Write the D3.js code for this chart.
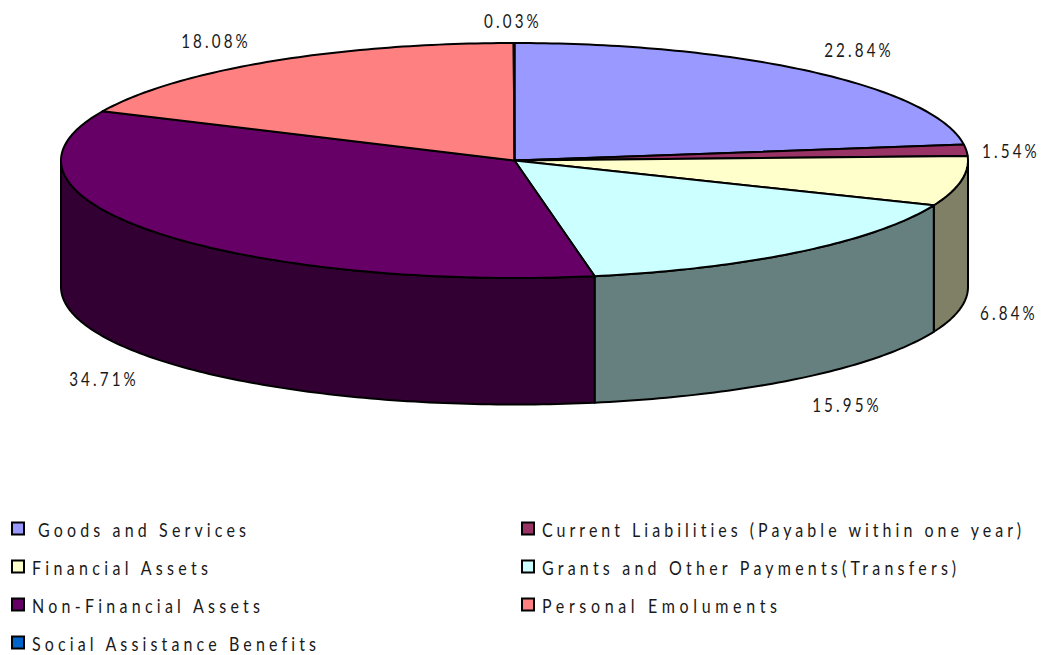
<!DOCTYPE html>
<html>
<head>
<meta charset="utf-8">
<script src="https://cdn.jsdelivr.net/npm/d3@7"></script>
<style>
  body { margin: 0; background: #fff; }
  text { font-family: Lato, "Open Sans", sans-serif; fill: #1a1a1a; font-variant-ligatures: none; }
</style>
</head>
<body>
<div id="chart"></div>
<script>
// Chart data
const categories = [
    "Goods and Services",
    "Current Liabilities (Payable within one year)",
    "Financial Assets",
    "Grants and Other Payments(Transfers)",
    "Non-Financial Assets",
    "Personal Emoluments",
    "Social Assistance Benefits"
];
const values = [22.84, 1.54, 6.84, 15.95, 34.71, 18.08, 0.03];
const topColors = ["#9999ff", "#993366", "#ffffcc", "#ccffff", "#660066", "#ff8080", "#0066cc"];
const sideColors = ["#4d4d80", "#4d1a33", "#808066", "#668080", "#330033", "#804040", "#003366"];

const width = 1041;
const height = 655;
const cx = 514.5, cy = 160.5, rx = 453.5, ry = 117.5, depth = 126.5;
const squeeze = 0.8; // the original font is narrower than anything installed

const svg = d3.select("#chart").append("svg")
    .attr("width", width)
    .attr("height", height)
    .style("display", "block");

const slices = d3.pie().sort(null).value(d => d)(values);

// angle is clockwise from the top of the ellipse
const px = a => cx + rx * Math.sin(a);
const py = a => cy - ry * Math.cos(a);
const line = d3.line().x(d => d[0]).y(d => d[1]);

function arcPoints(a0, a1, dy) {
    const n = Math.max(2, Math.ceil((a1 - a0) * 60));
    return d3.range(n + 1).map(i => {
        const a = a0 + (a1 - a0) * i / n;
        return [px(a), py(a) + dy];
    });
}

// Side wall first, only the front half of the cake shows
slices.forEach((s, i) => {
    const a0 = Math.max(s.startAngle, Math.PI / 2);
    const a1 = Math.min(s.endAngle, Math.PI * 1.5);
    if (a1 <= a0) return;
    const pts = arcPoints(a0, a1, 0).concat(arcPoints(a0, a1, depth).reverse());
    svg.append("path")
        .attr("d", line(pts) + "Z")
        .attr("fill", sideColors[i])
        .attr("stroke", "#000")
        .attr("stroke-width", 2)
        .attr("stroke-linejoin", "round");
});

// Top face
svg.selectAll("path.top")
    .data(slices)
    .enter().append("path")
    .attr("class", "top")
    .attr("d", s => line([[cx, cy]].concat(arcPoints(s.startAngle, s.endAngle, 0))) + "Z")
    .attr("fill", (s, i) => topColors[i])
    .attr("stroke", "#000")
    .attr("stroke-width", 2)
    .attr("stroke-linejoin", "round");

// Percent labels
const labelText = values.map(v => v.toFixed(2) + "%");
const labelX = [859, 1011, 1009, 847, 104, 216, 513];
const labelY = [50, 151, 313, 405, 379, 41, 21];

svg.selectAll("text.pct")
    .data(labelText)
    .enter().append("text")
    .attr("class", "pct")
    .attr("transform", (d, i) => `translate(${labelX[i]},${labelY[i]}) scale(${squeeze},1)`)
    .attr("dy", "0.35em")
    .attr("text-anchor", "middle")
    .style("font-size", "19px")
    .style("letter-spacing", "3.9px")
    .text(d => d);

// Legend
const legendX = [12, 522, 12, 522, 12, 522, 12];
const legendY = [529, 529, 567, 567, 605, 605, 643];
const legendTextX = [38, 542, 32, 542, 32, 542, 32];
const legendTextEnd = [246, 1021, 208, 956, 260, 777, 316];

const legend = svg.selectAll("g.legend")
    .data(categories)
    .enter().append("g")
    .attr("class", "legend");

legend.append("rect")
    .attr("x", (d, i) => legendX[i])
    .attr("y", (d, i) => legendY[i] - 6.5)
    .attr("width", 12)
    .attr("height", 12)
    .attr("fill", (d, i) => topColors[i])
    .attr("stroke", "#000")
    .attr("stroke-width", 2);

legend.append("text")
    .attr("transform", (d, i) => `translate(${legendTextX[i]},${legendY[i] + 1}) scale(${squeeze},1)`)
    .attr("dy", "0.35em")
    .attr("textLength", (d, i) => (legendTextEnd[i] - legendTextX[i]) / squeeze)
    .attr("lengthAdjust", "spacing")
    .style("font-size", "20px")
    .text(d => d);
</script>
</body>
</html>
